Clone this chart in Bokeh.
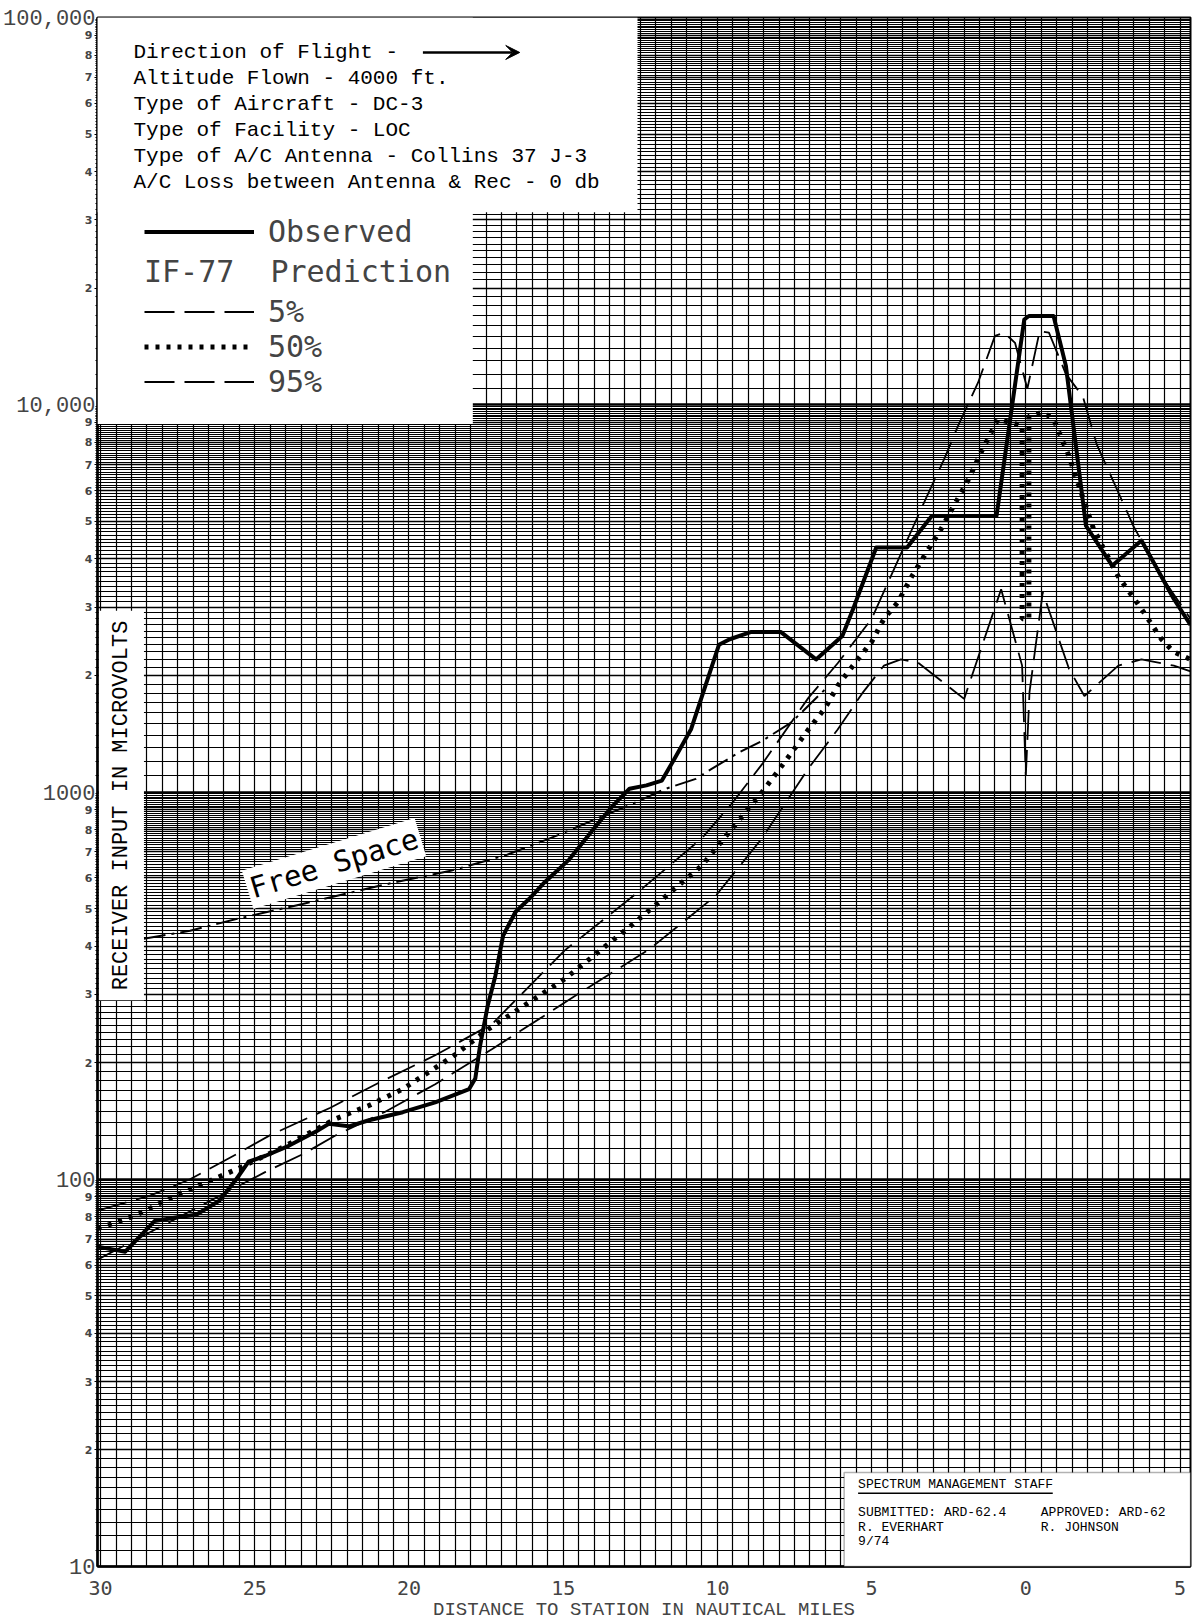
import numpy as np
from math import pi, radians
from bokeh.plotting import figure
from bokeh.models import (Range1d, FixedTicker, LogAxis, Grid, BoxAnnotation, Label,
                          Legend, LegendItem, Arrow, VeeHead)
from bokeh.embed import file_html
from bokeh.resources import INLINE

# ---------------- data (x: nautical miles, negative = before the station) ----------------
obs_x = [-30.1, -29.2, -28.25, -27.4, -26.9, -26.15, -25.6, -25.2, -24.65, -23.9, -23.0, -22.6,
         -21.95, -21.3, -20.2, -19.15, -18.05, -17.85, -17.7, -17.45, -17.2, -16.95, -16.55,
         -16.1, -15.6, -14.8, -13.95, -13.4, -12.85, -12.3, -11.8, -11.4, -10.85, -9.95, -9.6,
         -8.9, -7.95, -6.8, -5.95, -5.6, -4.85, -3.85, -3.05, -0.95, -0.05, 0.1, 0.9, 1.3, 1.95,
         2.8, 3.75, 4.8, 5.34]
obs_v = [67, 65, 78, 80, 81, 88, 100, 111, 115, 122, 133, 139, 137, 142, 149, 158, 171, 182,
         220, 280, 335, 425, 490, 530, 585, 670, 815, 920, 1020, 1040, 1070, 1215, 1455, 2400,
         2480, 2590, 2590, 2200, 2530, 2970, 4280, 4280, 5160, 5160, 16600, 16950, 16950,
         12600, 4870, 3840, 4460, 3150, 2700]

p50_x = [-30.1, -28.85, -27.55, -25.6, -24.0, -22.4, -21.3, -20.2, -18.6, -17.4, -14.95, -12.65,
         -10.5, -9.55, -8.55, -7.8, -7.05, -6.5, -6.1, -5.45, -5.0, -4.6, -4.15, -3.7, -3.3,
         -2.75, -2.4, -1.85, -1.45, -0.9, -0.12, -0.12, 0.1, 0.1, 0.55, 0.9, 1.4, 1.9, 2.2,
         3.0, 3.75, 4.4, 4.8, 5.34]
p50_v = [74.5, 80.7, 91, 106, 122, 143, 155, 171, 207, 245, 329, 462, 646, 800, 1000, 1200,
         1450, 1650, 1880, 2200, 2440, 2800, 3090, 3600, 4060, 4770, 5370, 6430, 7540, 9180,
         8820, 2800, 2800, 9340, 9570, 9180, 7360, 5600, 4770, 3600, 2970, 2480, 2300, 2200]

p5_x = [-30.1, -28.4, -27.1, -25.6, -24.5, -22.55, -20.95, -19.15, -17.3, -14.95, -12.65, -10.5,
        -9.55, -8.55, -7.05, -6.1, -5.0, -3.2, -2.65, -2.2, -1.55, -1.0, -0.7, -0.35, 0.05, 0.45,
        0.75, 1.3, 1.85, 2.3, 3.5, 4.4, 5.34]
p5_v = [83, 90.7, 100, 116, 130, 153, 178, 209, 252, 390, 545, 760, 930, 1180, 1750, 2150, 2800,
        5820, 7230, 8810, 11400, 15060, 15350, 14450, 11000, 15500, 15350, 12000, 10500, 7900,
        4840, 3600, 2800]

p95_x = [-30.1, -24.65, -23.45, -22.4, -20.8, -19.15, -17.3, -14.4, -12.2, -10.05, -8.55, -7.05,
         -6.1, -5.3, -4.6, -4.05, -3.5, -2.0, -0.8, -0.12, 0.0, 0.12, 0.55, 1.4, 1.9, 3.0, 3.75,
         4.8, 5.34]
p95_v = [62, 104.5, 116, 129.5, 149, 176, 217, 305, 393, 540, 760, 1150, 1450, 1800, 2120, 2200,
         2160, 1740, 3340, 2120, 1100, 1810, 3280, 2080, 1770, 2120, 2200, 2120, 2050]

fs_x = [-28.6, -27.1, -25.6, -23.45, -21.8, -20.45, -18.65, -16.85, -15.25, -13.95, -12.65, -11.7,
        -10.7, -10.2, -9.3, -8.55, -7.6, -6.5]
fs_v = [418, 438, 470, 514, 552, 585, 626, 687, 769, 851, 940, 1018, 1081, 1146, 1265, 1355,
        1513, 1844]

x_tick_pos = [-30, -25, -20, -15, -10, -5, 0, 5]
x_tick_labels = ["30", "25", "20", "15", "10", "5", "0", "5"]
y_decades = [10, 100, 1000, 10000, 100000]
y_decade_labels = ["10", "100", "1000", "10,000", "100,000"]
y_digits = [2, 3, 4, 5, 6, 7, 8, 9]

info_lines = ["Direction of Flight -",
              "Altitude Flown - 4000 ft.",
              "Type of Aircraft - DC-3",
              "Type of Facility - LOC",
              "Type of A/C Antenna - Collins 37 J-3",
              "A/C Loss between Antenna & Rec - 0 db"]

# ---------------- layout ----------------
FIG_W, FIG_H = 1194, 1623
B_L, B_R, B_T, B_B = 95, 4, 17, 55
X0, X1 = -30.1, 5.34
Y0, Y1 = 10, 100000
FW = FIG_W - B_L - B_R
FH = FIG_H - B_T - B_B


def px2x(px):
    return X0 + (px - B_L) / FW * (X1 - X0)


def py2y(py):
    return 10 ** (5 - (py - B_T) / FH * 4)


p = figure(width=FIG_W, height=FIG_H, x_range=Range1d(X0, X1), y_range=Range1d(Y0, Y1),
           y_axis_type="log", output_backend="svg", toolbar_location=None,
           min_border_left=B_L, min_border_right=B_R, min_border_top=B_T, min_border_bottom=B_B,
           background_fill_color="white", border_fill_color="white")
p.outline_line_color = "black"
p.outline_line_width = 2

# ---------------- graph paper ----------------
p.xgrid.ticker = FixedTicker(ticks=[round(v, 2) for v in np.arange(-30, 5.01, 0.5)])
p.xgrid.grid_line_color = "black"
p.xgrid.grid_line_width = 1.2
p.ygrid.visible = False

decs = [10, 100, 1000, 10000]
fine_lo = [round(m, 1) * d for d in decs for m in np.arange(1.1, 4.95, 0.1)
           if abs(m - round(m)) > 1e-6]
band = [round(m, 1) * d for d in decs for m in np.arange(5.1, 9.95, 0.1)
        if abs(m - round(m)) > 1e-6]
ints = [m * d for d in decs for m in y_digits]

for ticks, w in ((fine_lo, 1.05), (band, 1.1), (ints, 1.7), (y_decades, 2.4)):
    p.add_layout(Grid(dimension=1, ticker=FixedTicker(ticks=ticks), grid_line_color="black",
                      grid_line_width=w))

# ---------------- axes ----------------
xa = p.xaxis[0]
xa.ticker = FixedTicker(ticks=x_tick_pos)
xa.major_label_overrides = dict(zip(x_tick_pos, x_tick_labels))
xa.major_label_text_font = "DejaVu Sans Mono"
xa.major_label_text_font_size = "20px"
xa.major_label_standoff = 14
xa.major_tick_out = 0
xa.major_tick_in = 0
xa.minor_tick_out = 0
xa.minor_tick_in = 0
xa.axis_line_width = 2.5
xa.axis_label = "DISTANCE TO STATION IN NAUTICAL MILES"
xa.axis_label_text_font = "Liberation Mono"
xa.axis_label_text_font_size = "19px"
xa.axis_label_text_font_style = "normal"
xa.axis_label_standoff = 1

ya = p.yaxis[0]
digit_ticks = [m * d for d in decs for m in y_digits]
ya.ticker = FixedTicker(ticks=digit_ticks, minor_ticks=fine_lo + band)
ya.major_label_overrides = {m * d: str(m) for d in decs for m in y_digits}
ya.major_label_text_font = "DejaVu Sans"
ya.major_label_text_font_size = "11px"
ya.major_label_text_font_style = "bold"
ya.major_label_standoff = 2
ya.major_tick_out = 3
ya.major_tick_in = 0
ya.minor_tick_out = 2
ya.minor_tick_in = 0
ya.axis_line_width = 2.5

ya2 = LogAxis(ticker=FixedTicker(ticks=y_decades),
              major_label_overrides=dict(zip(y_decades, y_decade_labels)),
              major_label_text_font="Liberation Mono", major_label_text_font_size="22px",
              major_tick_out=0, major_tick_in=0, minor_tick_out=0, minor_tick_in=0,
              axis_line_color=None, major_label_standoff=-14)
p.add_layout(ya2, "left")

# ---------------- curves ----------------
r_obs = p.line(obs_x, obs_v, line_color="black", line_width=4, line_join="round")
r_p5 = p.line(p5_x, p5_v, line_color="black", line_width=1.8, line_dash="30 10")
r_p95 = p.line(p95_x, p95_v, line_color="black", line_width=1.8, line_dash="30 10")
r_p50 = p.line(p50_x, p50_v, line_color="black", line_width=5, line_dash="4 7")
r_fs = p.line(fs_x, fs_v, line_color="black", line_width=2, line_dash="22 6 3 6")

# ---------------- white boxes ----------------
p.add_layout(BoxAnnotation(left=X0, right=px2x(636), top=Y1, bottom=py2y(212),
                           fill_color="white", fill_alpha=1, line_alpha=0))
p.add_layout(BoxAnnotation(left=X0, right=px2x(471), top=Y1, bottom=py2y(424),
                           fill_color="white", fill_alpha=1, line_alpha=0))
p.add_layout(BoxAnnotation(left=px2x(843), right=X1, top=py2y(1474), bottom=Y0,
                           fill_color="white", fill_alpha=1, line_color="black",
                           line_width=1.5))
p.add_layout(BoxAnnotation(left=px2x(857), right=px2x(1052), top=py2y(1494),
                           bottom=py2y(1495.3), fill_color="black", fill_alpha=1,
                           line_alpha=0))

# ---------------- texts ----------------
for i, t in enumerate(info_lines):
    p.add_layout(Label(x=px2x(131), y=py2y(52 + 26 * i), text=t, text_font="Liberation Mono",
                       text_font_size="21px", text_baseline="middle", text_align="left",
                       text_color="black"))
p.add_layout(Arrow(end=VeeHead(size=14, fill_color="black", line_color="black"),
                   x_start=px2x(421), y_start=py2y(52), x_end=px2x(518), y_end=py2y(52),
                   line_width=2.5, line_color="black"))

p.add_layout(Label(x=px2x(119), y=py2y(806), text="RECEIVER INPUT IN MICROVOLTS",
                   angle=pi / 2, text_align="center", text_baseline="middle",
                   text_font="Liberation Mono", text_font_size="22px", text_color="black",
                   background_fill_color="white", padding=10))
p.add_layout(Label(x=px2x(332), y=py2y(864), text="Free Space", angle=radians(17),
                   text_align="center", text_baseline="middle", text_font="DejaVu Sans Mono",
                   text_font_size="29px", text_color="black", background_fill_color="white",
                   padding=3))

box_texts = [("SPECTRUM MANAGEMENT STAFF", 857, 1486),
             ("SUBMITTED:  ARD-62.4", 857, 1514),
             ("APPROVED:  ARD-62", 1040, 1514),
             ("R. EVERHART", 857, 1529),
             ("R. JOHNSON", 1040, 1529),
             ("9/74", 857, 1543)]
for t, bx, by in box_texts:
    p.add_layout(Label(x=px2x(bx), y=py2y(by), text=t, text_font="Liberation Mono",
                       text_font_size="13px", text_baseline="middle", text_align="left",
                       text_color="black"))

# ---------------- legends ----------------
common = dict(padding=0, margin=0, spacing=0, label_standoff=14, glyph_width=110,
              glyph_height=35, label_height=35, label_text_font="DejaVu Sans Mono",
              label_text_font_size="30px", background_fill_alpha=0, border_line_alpha=0)
leg1 = Legend(items=[LegendItem(label="Observed", renderers=[r_obs])],
              location=(47, 1317), **common)
leg2 = Legend(items=[LegendItem(label="5%", renderers=[r_p5]),
                     LegendItem(label="50%", renderers=[r_p50]),
                     LegendItem(label="95%", renderers=[r_p95])],
              title="IF-77  Prediction", title_text_font="DejaVu Sans Mono",
              title_text_font_size="30px", title_text_font_style="normal", title_standoff=5,
              location=(47, 1167), **common)
p.add_layout(leg1)
p.add_layout(leg2)

open("out.html", "w").write(file_html(p, INLINE))
